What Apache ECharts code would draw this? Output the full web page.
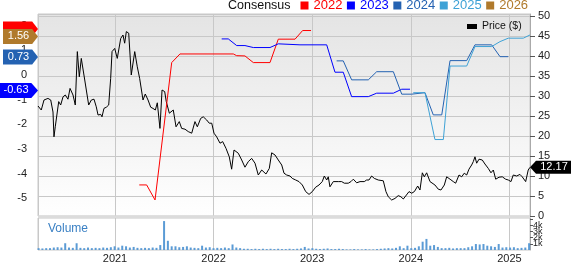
<!DOCTYPE html>
<html><head><meta charset="utf-8">
<script src="https://cdn.jsdelivr.net/npm/echarts@6/dist/echarts.min.js"></script>
<style>html,body{margin:0;padding:0;background:#fff}#c{width:571px;height:264px}</style>
</head><body><div id="c"></div>
<script>
// ---- data ----
const yearLabels = ['2021', '2022', '2023', '2024', '2025'];
const priceDates = [2020.219,2020.252,2020.280,2020.320,2020.348,2020.371,2020.381,2020.394,2020.429,2020.449,
2020.473,2020.496,2020.523,2020.544,2020.574,2020.597,2020.618,2020.638,2020.658,2020.693,
2020.709,2020.733,2020.760,2020.787,2020.810,2020.828,2020.855,2020.868,2020.888,2020.912,
2020.936,2020.956,2020.970,2020.997,2021.023,2021.040,2021.058,2021.081,2021.098,2021.115,
2021.139,2021.165,2021.200,2021.226,2021.250,2021.284,2021.307,2021.335,2021.362,2021.385,
2021.409,2021.429,2021.456,2021.477,2021.504,2021.520,2021.551,2021.591,2021.619,2021.652,
2021.676,2021.710,2021.743,2021.778,2021.811,2021.835,2021.869,2021.895,2021.930,2021.956,
2021.981,2022.004,2022.031,2022.065,2022.092,2022.126,2022.159,2022.183,2022.207,2022.250,
2022.285,2022.318,2022.352,2022.386,2022.420,2022.453,2022.488,2022.531,2022.565,2022.589,
2022.623,2022.656,2022.691,2022.714,2022.741,2022.775,2022.798,2022.833,2022.866,2022.900,
2022.934,2022.968,2023.001,2023.035,2023.069,2023.102,2023.123,2023.147,2023.163,2023.180,
2023.214,2023.265,2023.299,2023.326,2023.366,2023.393,2023.417,2023.451,2023.485,2023.528,
2023.552,2023.576,2023.603,2023.630,2023.670,2023.721,2023.748,2023.772,2023.806,2023.840,
2023.873,2023.900,2023.924,2023.948,2023.982,2024.009,2024.036,2024.070,2024.093,2024.117,
2024.137,2024.161,2024.195,2024.245,2024.279,2024.306,2024.340,2024.364,2024.398,2024.431,
2024.455,2024.489,2024.516,2024.542,2024.567,2024.590,2024.617,2024.634,2024.651,2024.668,
2024.692,2024.725,2024.752,2024.786,2024.813,2024.837,2024.861,2024.895,2024.928,2024.962,
2024.989,2025.016,2025.039,2025.074,2025.107,2025.130,2025.165,2025.191,2025.209];
const priceValues = [27.5,26.5,29,29.4,29,26,19.8,22.3,28.6,27.75,
29.8,30.25,29.2,31.9,30.25,27.75,41.1,34.8,39.4,34,
33.6,27.75,29,29.2,27.3,25.25,25.4,24.8,26.9,27.2,
27.75,34.4,41.1,41.9,39.4,39.2,44.4,45.25,43.2,46.1,
45.7,35.25,41.1,37.3,34.4,29,30.5,29,27.2,26.9,
26.5,28.3,21.9,31.5,31.1,28.6,25.7,26.5,22.3,23.6,
21.9,21.7,21.1,20.7,23.6,22.3,24.4,24.8,24,23.2,
23.2,20.7,19.8,18.2,18.6,16.9,14.8,11.7,16.5,15.7,
14,12.2,13.6,14.4,13.2,10.25,11.5,10.5,11.9,15.8,
15.25,14,12.75,10.7,10.25,10,9.4,9,8.6,7.75,
6.1,5.4,6.1,7.2,7.75,8.6,10,9,9.8,7.3,
8.6,8.6,8.6,8.2,8.2,8.6,9.2,8.3,8.6,8.6,
9,9,10,9.4,9,8.8,6.1,4.8,4,4.4,
5.1,4.8,4.25,5,6.1,5.7,6.1,7.5,6.5,10.8,
9.8,10.8,8.6,7.75,6.7,6.5,7.75,9.8,9.2,8.6,
8.2,10.25,9.8,10.7,10.25,11.7,12.75,13.6,14.8,13.2,
14.2,14,13,11.9,10.8,11.5,9.2,9.7,9.8,9.2,
9,8.6,10.25,10,10.4,9.8,8.6,11.5,12.17];
const lastPrice = 12.17;

const c2022Dates = [2021.246,2021.321,2021.406,2021.575,2021.659,2022.200,2022.234,2022.318,2022.403,2022.572,2022.656,2022.826,2022.903,2022.988];
const c2022Values = [-4.46,-4.46,-5.07,0.50,0.85,0.85,0.78,0.77,0.50,0.50,1.45,1.45,1.80,1.80];
const c2023Dates = [2022.082,2022.149,2022.234,2022.318,2022.403,2022.572,2022.656,2022.876,2023.147,2023.231,2023.315,2023.400,2023.569,2023.654,2023.823,2023.908,2023.992];
const c2023Values = [1.46,1.46,1.19,1.19,1.11,1.11,1.26,1.22,1.22,0.11,0.11,-0.88,-0.88,-0.74,-0.74,-0.58,-0.58];
const c2024Dates = [2023.248,2023.315,2023.400,2023.569,2023.654,2023.823,2023.908,2024.009,2024.144,2024.228,2024.314,2024.398,2024.567,2024.651,2024.820,2024.905,2024.989];
const c2024Values = [0.57,0.57,-0.20,-0.20,0.13,0.13,-0.78,-0.78,-0.72,-1.62,-1.62,0.58,0.58,1.22,1.22,0.74,0.74];
const c2025Dates = [2024.025,2024.144,2024.245,2024.330,2024.398,2024.567,2024.651,2024.820,2024.905,2024.989,2025.141,2025.209];
const c2025Values = [-0.72,-0.72,-2.62,-2.62,0.36,0.36,1.15,1.15,1.35,1.49,1.49,1.62];
const c2026Dates = [2025.209];
const c2026Values = [1.56];
// current consensus tags (EPS)
const tag2022 = 1.86, tag2023 = -0.63, tag2024 = 0.73, tag2026 = 1.56;

// volume (thousands), roughly bi-weekly
const volStart = 2020.225, volEnd = 2025.200;
const volumeValues = [0.3,0.25,0.3,0.3,0.4,0.45,0.4,1.1,0.4,0.35,
1.1,0.35,0.3,0.4,0.3,0.35,0.3,0.4,0.35,0.45,
0.6,0.4,0.7,0.6,0.4,0.5,0.35,0.3,0.35,0.3,
0.4,0.35,0.8,4.7,1.5,0.6,0.6,0.45,0.5,0.6,
0.4,0.35,0.3,0.7,0.4,0.45,0.3,0.35,0.3,0.4,
0.3,0.9,0.4,0.3,0.2,0.2,0.15,0.2,0.15,0.2,
0.15,0.2,0.15,0.2,0.15,0.15,0.2,0.15,0.2,0.25,
0.5,0.25,0.3,0.2,0.15,0.2,0.25,0.15,0.15,0.2,
0.15,0.1,0.1,0.15,0.1,0.1,0.15,0.1,0.1,0.15,
0.2,0.25,0.3,0.25,0.35,0.6,0.3,0.7,0.3,0.35,
0.6,1.35,1.8,0.7,0.8,0.5,0.3,0.3,0.35,0.25,
0.3,0.3,0.3,0.45,0.6,0.97,0.9,0.97,0.7,0.6,
0.5,0.97,0.4,0.45,0.4,0.45,0.3,0.35,0.4,1.1];

// ---- build ----
const zip = (a, b) => a.map((v, i) => [v, b[i]]);
const volStep = (volEnd - volStart) / (volumeValues.length - 1);
const volumeData = volumeValues.map((v, i) => [volStart + i * volStep, v]);
const X_MIN = 2020.219, X_MAX = 2025.209;

const FONT = 'Liberation Sans, Arial, sans-serif';
const COL = { c2022: '#ff0000', c2023: '#0000ff', c2024: '#2462b2', c2025: '#3ea2d6', c2026: '#b07a2c' };
const leftTagPath = 'path://M0,0L30,0L36,7L30,14L0,14Z';
function leftTag(value, color, width, showText) {
  return {
    symbol: leftTagPath, symbolSize: [width, 15], symbolOffset: [-width / 2, 0], silent: true,
    label: { show: showText, formatter: '{c}', color: '#fff', fontSize: 11, fontFamily: FONT, offset: [-2, 0] },
    itemStyle: { color: color },
    data: [{ coord: [X_MIN, value], value: value }]
  };
}
function consensusSeries(name, dates, values, color, tag) {
  return {
    name: name, type: 'line', xAxisIndex: 0, yAxisIndex: 1, data: zip(dates, values),
    showSymbol: false, symbol: 'none', lineStyle: { width: 1, color: color }, itemStyle: { color: color },
    animation: false, z: 3, markPoint: tag
  };
}

const chart = echarts.init(document.getElementById('c'), null, { renderer: 'canvas' });
chart.setOption({
  animation: false,
  textStyle: { fontFamily: FONT },
  grid: [
    { left: 38, top: 14, width: 492, height: 202, show: true, borderColor: '#c8c8c8', borderWidth: 1,
      backgroundColor: { type: 'linear', x: 0, y: 0, x2: 0, y2: 1, colorStops: [{ offset: 0, color: '#e4e4e4' }, { offset: 1, color: '#ffffff' }] } },
    { left: 38, top: 218, width: 492, height: 36, show: true, borderColor: '#c8c8c8', borderWidth: 1, backgroundColor: '#fff' }
  ],
  graphic: [
    { type: 'rect', shape: { x: 38, y: 215.5, width: 492, height: 2.5 }, style: { fill: '#dcdcdc' }, z: 1, silent: true },
    { type: 'text', x: 228, y: 5.5, style: { text: 'Consensus', fill: '#111', font: '12.5px ' + FONT, textVerticalAlign: 'middle' }, silent: true },
    { type: 'text', x: 48, y: 228.5, style: { text: 'Volume', fill: '#3a80c4', font: '12px ' + FONT, textVerticalAlign: 'middle' }, silent: true, z: 10 }
  ],
  legend: [
    { left: 300.5, top: -1, padding: 0, icon: 'rect', itemWidth: 8, itemHeight: 8, itemGap: 4.5, selectedMode: false,
      textStyle: { fontSize: 13, fontFamily: FONT },
      data: [
        { name: '2022', textStyle: { color: COL.c2022 } },
        { name: '2023', textStyle: { color: COL.c2023 } },
        { name: '2024', textStyle: { color: COL.c2024 } },
        { name: '2025', textStyle: { color: COL.c2025 } },
        { name: '2026', textStyle: { color: COL.c2026 } }
      ] },
    { left: 467, top: 21, padding: 0, icon: 'rect', itemWidth: 10, itemHeight: 5, selectedMode: false,
      textStyle: { fontSize: 10.5, color: '#111', fontFamily: FONT }, data: ['Price ($)'] }
  ],
  xAxis: [
    { type: 'value', gridIndex: 0, min: X_MIN, max: X_MAX, splitNumber: 5,
      axisLine: { show: false }, axisTick: { show: false }, axisLabel: { show: false },
      splitLine: { show: true, lineStyle: { color: '#c8c8c8', width: 1 } } },
    { type: 'value', gridIndex: 1, min: X_MIN, max: X_MAX, splitNumber: 5,
      axisLine: { show: false }, axisTick: { show: false },
      axisLabel: { show: true, showMinLabel: false, showMaxLabel: false, margin: 3, fontSize: 11, color: '#222',
        formatter: v => { const r = Math.round(v); return Math.abs(v - r) < 1e-6 && yearLabels.includes(String(r)) ? String(r) : ''; } },
      splitLine: { show: true, lineStyle: { color: '#c8c8c8', width: 1 } } }
  ],
  yAxis: [
    { type: 'value', gridIndex: 0, position: 'right', min: 0, max: 50.5, interval: 5,
      axisLine: { show: true, lineStyle: { color: '#aaa' } },
      axisTick: { show: true, length: 5, lineStyle: { color: '#555' } },
      axisLabel: { showMaxLabel: false, margin: 8, fontSize: 11, color: '#222' },
      splitLine: { show: true, lineStyle: { color: '#c8c8c8', width: 1 } } },
    { type: 'value', gridIndex: 0, position: 'left', min: -5.72, max: 2.47, splitNumber: 8,
      axisLine: { show: false }, axisTick: { show: false }, splitLine: { show: false },
      axisLabel: { showMinLabel: false, showMaxLabel: false, margin: 11, fontSize: 11, color: '#222' } },
    { type: 'value', gridIndex: 1, position: 'right', min: 0, max: 5.2, interval: 1,
      axisLine: { show: true, lineStyle: { color: '#aaa' } },
      axisTick: { show: true, length: 3, lineStyle: { color: '#555' } },
      axisLabel: { showMaxLabel: false, margin: 3, fontSize: 9, color: '#222', lineHeight: 8,
        formatter: v => v === 0 ? '0' : (v <= 4 ? v + 'k' : '') },
      splitLine: { show: false } }
  ],
  series: [
    { name: 'Price ($)', type: 'line', xAxisIndex: 0, yAxisIndex: 0, data: zip(priceDates, priceValues),
      showSymbol: false, symbol: 'none', lineStyle: { width: 1, color: '#000' }, itemStyle: { color: '#000' }, z: 2,
      markPoint: {
        symbol: 'path://M0,7L6,0L42,0L42,14L6,14Z', symbolSize: [42, 13], symbolOffset: [21, 0], silent: true,
        label: { show: true, formatter: '{c}', color: '#fff', fontSize: 11, fontFamily: FONT, offset: [3, 0] },
        itemStyle: { color: '#000' },
        data: [{ coord: [X_MAX, lastPrice], value: lastPrice }]
      } },
    { name: 'Volume', type: 'bar', xAxisIndex: 1, yAxisIndex: 2, data: volumeData, barWidth: 2,
      itemStyle: { color: '#5b9bd5' } },
    consensusSeries('2022', c2022Dates, c2022Values, COL.c2022, leftTag(tag2022, COL.c2022, 35, false)),
    consensusSeries('2023', c2023Dates, c2023Values, COL.c2023, leftTag(tag2023, COL.c2023, 40, true)),
    consensusSeries('2024', c2024Dates, c2024Values, COL.c2024, leftTag(tag2024, COL.c2024, 35, true)),
    consensusSeries('2025', c2025Dates, c2025Values, COL.c2025, undefined),
    consensusSeries('2026', c2026Dates, c2026Values, COL.c2026, leftTag(tag2026, COL.c2026, 35, true))
  ]
});
</script>
</body></html>
